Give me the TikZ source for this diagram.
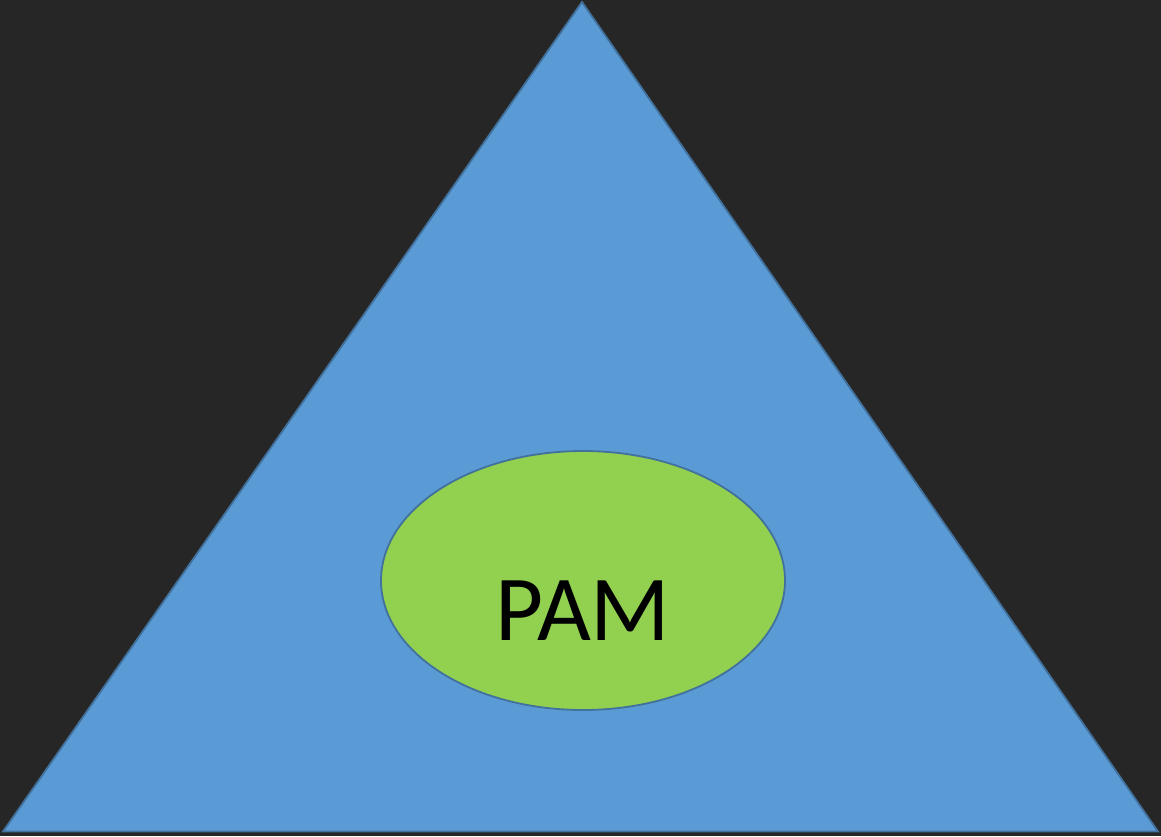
\documentclass[tikz,border=0pt]{standalone}
\usepackage{fontspec}
\setmainfont{Carlito}
\usetikzlibrary{shapes.geometric}
\definecolor{bgdark}{HTML}{262626}
\definecolor{tribl}{HTML}{5B9BD5}
\definecolor{edgebl}{HTML}{41719C}
\definecolor{pamgreen}{HTML}{92D050}
\tikzset{
  shapeedge/.style={draw=edgebl, line width=1.8pt, line join=miter},
}
\begin{document}
\begin{tikzpicture}[x=1pt,y=-1pt]
  % canvas
  \fill[bgdark] (0,0) rectangle (1161,836);
  \useasboundingbox (0,0) rectangle (1161,836);
  % pyramid
  \coordinate (apex) at (582,2);
  \coordinate (bl) at (3,831.5);
  \coordinate (br) at (1158,831.5);
  \filldraw[shapeedge, fill=tribl] (apex) -- (br) -- (bl) -- cycle;
  % inner ellipse
  \node[ellipse, shapeedge, fill=pamgreen, minimum width=404pt, minimum height=259pt, inner sep=0pt] (pam) at (583,580.5) {};
  \node[font=\fontsize{93}{100}\selectfont, text=black, anchor=base] (pamlabel) at (583,640) {PAM};
\end{tikzpicture}
\end{document}
